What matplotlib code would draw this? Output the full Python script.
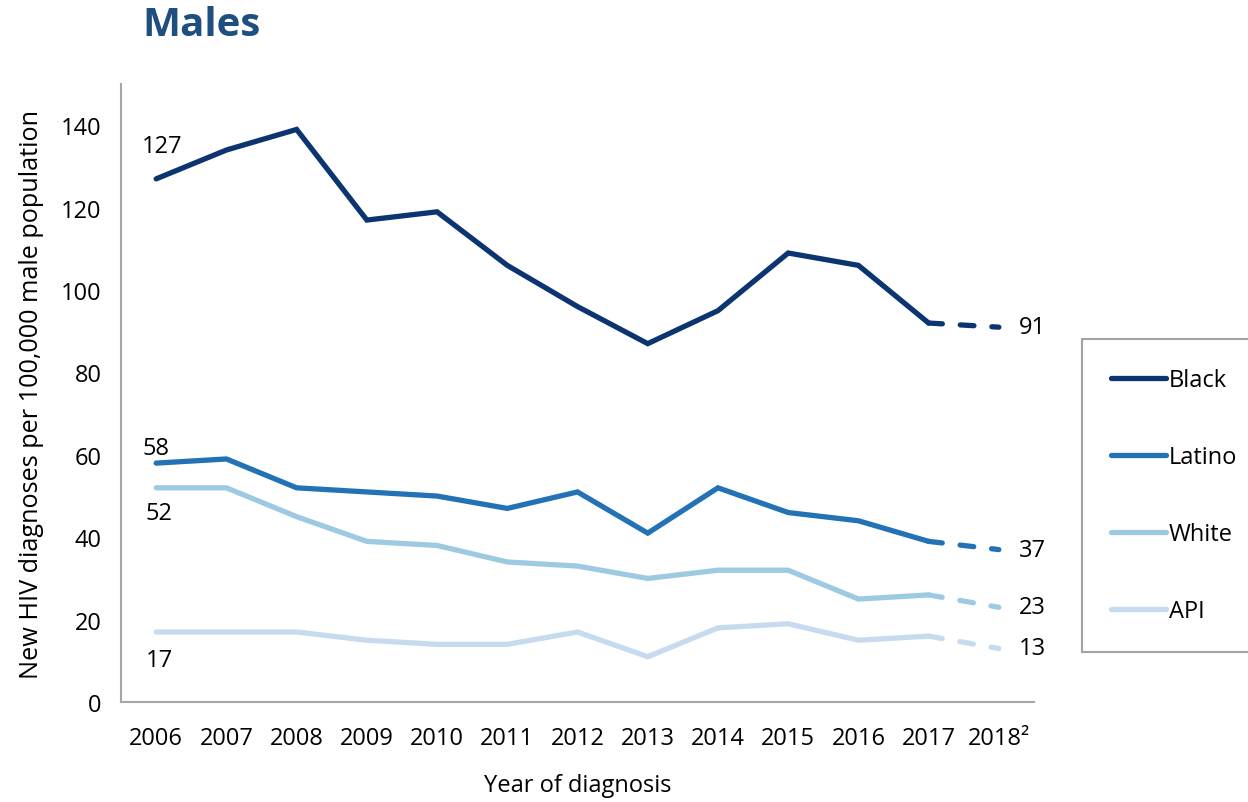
import numpy as np
import matplotlib
matplotlib.use('Agg')
import matplotlib.pyplot as plt

years = ['2006', '2007', '2008', '2009', '2010', '2011', '2012', '2013',
         '2014', '2015', '2016', '2017', '2018\u00b2']
black = [127, 134, 139, 117, 119, 106, 96, 87, 95, 109, 106, 92, 91]
latino = [58, 59, 52, 51, 50, 47, 51, 41, 52, 46, 44, 39, 37]
white = [52, 52, 45, 39, 38, 34, 33, 30, 32, 32, 25, 26, 23]
api = [17, 17, 17, 15, 14, 14, 17, 11, 18, 19, 15, 16, 13]

names = ['Black', 'Latino', 'White', 'API']
colors = ['#0b3470', '#2372b6', '#9ecae1', '#c6dbef']
series = [black, latino, white, api]
# offsets (points) for the first value labels
first_off = [(4, 24), (0, 11), (2, -18), (2, -20)]

plt.rcParams['font.family'] = ['Open Sans', 'DejaVu Sans']
fs = 17

fig = plt.figure(figsize=(12.48, 8.03), dpi=100)
ax = fig.add_axes([0.097, 0.1245, 0.7315, 0.7695])

x = np.arange(len(years))
for vals, name, c, off in zip(series, names, colors, first_off):
    ax.plot(x[:-1], vals[:-1], color=c, lw=3.8, label=name,
            solid_joinstyle='miter', solid_capstyle='round')
    ax.plot(x[-2:], vals[-2:], color=c, lw=3.8, ls=(0, (2.6, 3.4)),
            dash_capstyle='round')
    ax.annotate(str(vals[0]), (x[0], vals[0]), xytext=off,
                textcoords='offset points', ha='center', va='center',
                fontsize=fs)
    ax.annotate(str(vals[-1]), (x[-1], vals[-1]), xytext=(24, 0),
                textcoords='offset points', ha='center', va='center',
                fontsize=fs)

ax.set_xlim(-0.5, len(years) - 0.5)
ax.set_ylim(0, 150)
ax.set_yticks(range(0, 141, 20))
ax.set_xticks(x)
ax.set_xticklabels(years)
ax.tick_params(axis='both', length=0, labelsize=fs)
ax.tick_params(axis='x', pad=17)
ax.tick_params(axis='y', pad=14)
for s in ['top', 'right']:
    ax.spines[s].set_visible(False)
for s in ['left', 'bottom']:
    ax.spines[s].set_color('#a6a6a6')
    ax.spines[s].set_linewidth(1.5)

ax.set_xlabel('Year of diagnosis', fontsize=fs, labelpad=17)
ax.set_ylabel('New HIV diagnoses per 100,000 male population', fontsize=18.2,
              labelpad=12)

fig.text(142 / 1248, 1 - 26 / 803, 'Males', fontsize=29, fontweight='bold',
         color='#1f4e80', va='center', ha='left')

handles, labels = ax.get_legend_handles_labels()
leg = fig.legend(handles, labels, loc='upper left',
                 bbox_to_anchor=(1082 / 1248, 1 - 340 / 803, 0.2, 0),
                 mode='expand', fontsize=fs, frameon=True, fancybox=False,
                 edgecolor='#8c8c8c', labelspacing=2.24, handlelength=2.3,
                 handletextpad=0.15, borderpad=1.24, borderaxespad=0)
leg.get_frame().set_linewidth(1.5)

fig.savefig('out.png', dpi=100)
